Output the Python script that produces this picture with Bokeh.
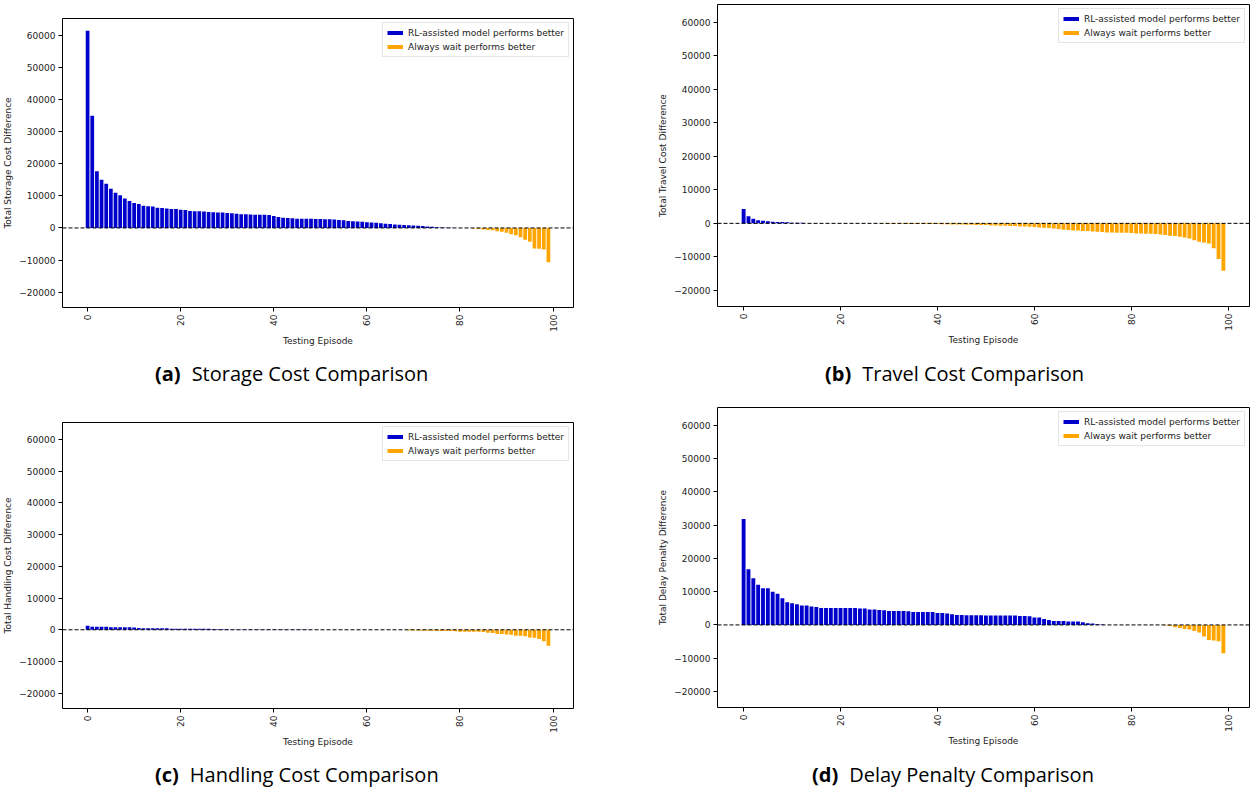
import math
from bokeh.plotting import figure
from bokeh.models import ColumnDataSource, Span, Legend, LegendItem, FixedTicker, Range1d, Div
from bokeh.layouts import row, column
from bokeh.embed import file_html
from bokeh.resources import INLINE

# ---------------- data ----------------
episodes = list(range(100))
x_ticks = [0, 20, 40, 60, 80, 100]
y_ticks = [-20000, -10000, 0, 10000, 20000, 30000, 40000, 50000, 60000]
y_tick_labels = {-20000: "\u221220000", -10000: "\u221210000"}

legend_labels = ["RL-assisted model performs better", "Always wait performs better"]

storage = [61500, 35000, 17700, 15000, 13800, 12200, 11000, 10200, 9200, 8400,
           7800, 7500, 6900, 6800, 6700, 6300, 6200, 6100, 5900, 5900,
           5700, 5600, 5300, 5200, 5200, 5100, 5000, 4900, 4800, 4800,
           4700, 4600, 4400, 4300, 4300, 4200, 4100, 4100, 4100, 4000,
           3700, 3400, 3200, 3100, 3000, 2900, 2900, 2900, 2850, 2800,
           2800, 2750, 2700, 2600, 2500, 2400, 2200, 2100, 2000, 1900,
           1800, 1700, 1600, 1500, 1300, 1200, 1100, 1000, 900, 850,
           800, 700, 600, 450, 350, 250, 150, 80, 40, 20,
           0, 0, 0, -200, -300, -500, -600, -700, -1000, -1200,
           -1500, -2000, -2300, -2900, -3700, -4300, -6400, -6500, -6700, -10700]

travel = [4300, 2100, 1400, 900, 800, 600, 500, 400, 400, 300,
          200, 200, 150, 0, 0, 0, 0, 0, 0, 0,
          0, 0, 0, 0, 0, 0, 0, 0, 0, -50,
          -80, -100, -100, -120, -150, -150, -150, -180, -200, -200,
          -200, -250, -250, -300, -300, -350, -400, -400, -450, -500,
          -500, -600, -600, -700, -700, -800, -800, -900, -900, -1000,
          -1100, -1200, -1300, -1400, -1500, -1700, -1900, -2000, -2100, -2100,
          -2300, -2300, -2400, -2500, -2600, -2700, -2700, -2800, -2800, -2800,
          -2900, -3000, -3000, -3100, -3100, -3200, -3300, -3500, -3700, -3800,
          -4000, -4200, -4500, -5000, -5500, -5700, -6000, -7400, -10600, -14100]

handling = [1250, 950, 950, 950, 950, 800, 800, 800, 800, 800,
            750, 550, 500, 500, 500, 500, 500, 450, 350, 300,
            300, 300, 300, 300, 300, 300, 300, 250, 150, 150,
            150, 120, 120, 120, 100, 100, 100, 100, 100, 100,
            80, 80, 80, 60, 60, 60, 50, 50, 0, 0,
            0, 0, 0, 0, 0, 0, 0, 0, 0, 0,
            0, 0, 0, 0, 0, 0, 0, 0, 0, -200,
            -250, -250, -300, -300, -300, -350, -400, -400, -400, -500,
            -600, -600, -600, -600, -650, -700, -900, -1000, -1300, -1300,
            -1500, -1600, -1900, -1900, -2000, -2400, -2500, -2900, -3600, -5000]

delay = [31800, 16700, 14000, 12100, 11000, 11000, 10000, 9400, 8000, 6800,
         6500, 6200, 5800, 5800, 5500, 5400, 5100, 5100, 5100, 5100,
         5100, 5100, 5100, 5100, 4900, 4900, 4600, 4600, 4500, 4400,
         4200, 4200, 4200, 4200, 4100, 3900, 3900, 3900, 3900, 3900,
         3600, 3600, 3400, 3200, 3000, 3000, 2900, 2900, 2900, 2900,
         2800, 2800, 2800, 2800, 2800, 2800, 2800, 2700, 2700, 2600,
         2200, 2200, 1800, 1500, 1200, 1200, 1200, 1000, 1000, 1000,
         800, 500, 400, 200, 150, 0, 0, 0, 0, 0,
         0, 0, 0, 0, 0, 0, 0, -200, -300, -700,
         -900, -1200, -1400, -1800, -2300, -3500, -4500, -4700, -4900, -8500]

BLUE = "#0000cd"
ORANGE = "#ffa500"
TICK_FONT = "DejaVu Sans"
NAN = float("nan")


def make_panel(vals, ylabel, w, h, bl, br, bt, bb):
    colors = [BLUE if v > 0 else ORANGE for v in vals]
    src = ColumnDataSource(dict(x=episodes, top=vals, color=colors))
    p = figure(width=w, height=h,
               min_border_left=bl, min_border_right=br,
               min_border_top=bt, min_border_bottom=bb,
               x_range=Range1d(-5.39, 104.39), y_range=Range1d(-24800, 65300),
               output_backend="svg", toolbar_location=None)
    p.title.visible = False
    p.vbar(x="x", top="top", bottom=0, width=0.8, fill_color="color",
           line_color=None, source=src)
    p.add_layout(Span(location=0, dimension="width", line_color="black",
                      line_dash="4 2", line_width=1))

    # legend-only line handles (no visible data)
    l1 = p.line(x=[NAN], y=[NAN], line_color=BLUE, line_width=4)
    l2 = p.line(x=[NAN], y=[NAN], line_color=ORANGE, line_width=4)
    leg = Legend(items=[LegendItem(label=legend_labels[0], renderers=[l1]),
                        LegendItem(label=legend_labels[1], renderers=[l2])],
                 location="top_right", margin=4, padding=4, spacing=3,
                 label_height=11, glyph_height=11, glyph_width=16,
                 label_standoff=5,
                 label_text_font=TICK_FONT, label_text_font_size="9px",
                 label_text_color="#222222",
                 border_line_color="#cccccc", border_line_width=1,
                 background_fill_alpha=0.8)
    p.add_layout(leg)

    p.xgrid.visible = False
    p.ygrid.visible = False
    p.outline_line_color = "black"
    p.outline_line_width = 1
    p.outline_line_alpha = 1

    for ax in (p.xaxis[0], p.yaxis[0]):
        ax.axis_line_color = None
        ax.major_tick_line_color = "black"
        ax.major_tick_in = 0
        ax.major_tick_out = 4
        ax.minor_tick_line_color = None
        ax.major_label_standoff = 3
        ax.major_label_text_font = TICK_FONT
        ax.major_label_text_font_size = "9px"
        ax.major_label_text_color = "#222222"
        ax.axis_label_text_font = TICK_FONT
        ax.axis_label_text_font_size = "9px"
        ax.axis_label_text_font_style = "normal"
        ax.axis_label_text_color = "#222222"
        ax.axis_label_standoff = 3

    p.xaxis[0].ticker = FixedTicker(ticks=x_ticks)
    p.xaxis[0].major_label_orientation = math.pi / 2
    p.xaxis[0].axis_label = "Testing Episode"
    p.xaxis[0].axis_label_standoff = 1
    p.yaxis[0].ticker = FixedTicker(ticks=y_ticks)
    p.yaxis[0].major_label_overrides = y_tick_labels
    p.yaxis[0].axis_label = ylabel
    return p


def make_caption(w, h, tag, caption, left, top):
    html = ('<div style="position:relative; left:%dpx; top:%dpx; white-space:nowrap; '
            'font-family:\'Open Sans\'; font-size:20px; line-height:27px; color:black;">'
            '<span style="font-weight:bold;">%s</span>'
            '<span style="margin-left:11px;">%s</span></div>') % (left, top, tag, caption)
    return Div(text=html, width=w, height=h, margin=0)


# left column (x 0..640), right column (x 640..1257)
pa = make_panel(storage, "Total Storage Cost Difference", 640, 350, 62, 67, 18, 43)
pb = make_panel(travel, "Total Travel Cost Difference", 617, 350, 77, 8, 4, 44)
pc = make_panel(handling, "Total Handling Cost Difference", 640, 355, 62, 67, 27, 42)
pd = make_panel(delay, "Total Delay Penalty Difference", 617, 355, 77, 8, 12, 43)

ca = make_caption(640, 45, "(a)", "Storage Cost Comparison", 155, 10)
cb = make_caption(617, 45, "(b)", "Travel Cost Comparison", 185, 10)
cc = make_caption(640, 41, "(c)", "Handling Cost Comparison", 155, 11)
cd = make_caption(617, 41, "(d)", "Delay Penalty Comparison", 172, 11)

left = column(pa, ca, pc, cc)
right = column(pb, cb, pd, cd)
layout = row(left, right)
open("out.html", "w").write(file_html(layout, INLINE))
